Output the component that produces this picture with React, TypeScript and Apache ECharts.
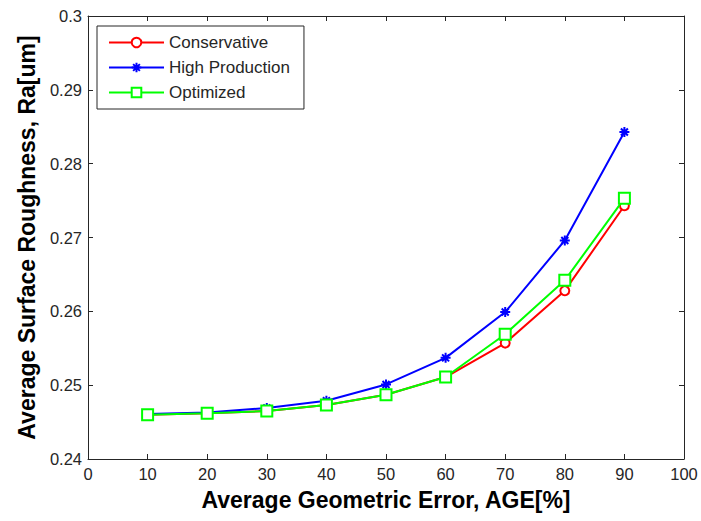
import React, { useEffect, useRef } from "react";
import * as echarts from "echarts";

const xValues = [10, 20, 30, 40, 50, 60, 70, 80, 90];
const conservative = [0.2460, 0.2462, 0.2465, 0.2473, 0.2487, 0.2511, 0.2557, 0.2628, 0.2743];
const highProduction = [0.2461, 0.2463, 0.2469, 0.2479, 0.2501, 0.2537, 0.2599, 0.2696, 0.2843];
const optimized = [0.2460, 0.2462, 0.2465, 0.2473, 0.2487, 0.2511, 0.2569, 0.2642, 0.2753];
const seriesNames = ["Conservative", "High Production", "Optimized"];

const asterisk = "path://M5,0L5,10M0,5L10,5M1.5,1.5L8.5,8.5M1.5,8.5L8.5,1.5";

const FONT = "Liberation Sans, Arial, sans-serif";
const AXIS = "#262626";

export default function App() {
  const ref = useRef<HTMLDivElement>(null);
  useEffect(() => {
    const chart = echarts.init(ref.current!, null, { renderer: "svg" });
    const pair = (ys: number[]) => xValues.map((x, i) => [x, ys[i]]);
    const axisCommon = {
      axisLine: { show: true, onZero: false, lineStyle: { color: AXIS, width: 1 } },
      axisTick: { show: true, inside: true, length: 5, lineStyle: { color: AXIS } },
      splitLine: { show: false },
    };
    const titleStyle = { fontSize: 23, fontWeight: "bold", color: "#000", fontFamily: FONT };
    chart.setOption({
      animation: false,
      backgroundColor: "#ffffff",
      textStyle: { fontFamily: FONT },
      grid: { left: 88, right: 17, top: 16, bottom: 62, containLabel: false },
      legend: {
        orient: "vertical",
        left: 97,
        top: 26,
        padding: [8, 14, 8, 11],
        itemWidth: 55,
        itemHeight: 12,
        itemGap: 8,
        backgroundColor: "#ffffff",
        borderColor: AXIS,
        borderWidth: 1,
        textStyle: { fontSize: 17, color: "#262626", fontFamily: FONT },
        data: seriesNames,
      },
      xAxis: [
        {
          type: "value",
          min: 0,
          max: 100,
          interval: 10,
          name: "Average Geometric Error, AGE[%]",
          nameLocation: "middle",
          nameGap: 29,
          nameTextStyle: titleStyle,
          axisLabel: { fontSize: 16.5, color: "#262626", margin: 6 },
          ...axisCommon,
        },
        {
          type: "value",
          position: "top",
          min: 0,
          max: 100,
          interval: 10,
          axisLabel: { show: false },
          ...axisCommon,
        },
      ],
      yAxis: [
        {
          type: "value",
          min: 0.24,
          max: 0.3,
          interval: 0.01,
          name: "Average Surface Roughness, Ra[um]",
          nameLocation: "middle",
          nameGap: 49,
          nameTextStyle: titleStyle,
          axisLabel: {
            fontSize: 16.5,
            color: "#262626",
            margin: 6,
            formatter: (v: number) => String(parseFloat(v.toFixed(2))),
          },
          ...axisCommon,
        },
        {
          type: "value",
          position: "right",
          min: 0.24,
          max: 0.3,
          interval: 0.01,
          axisLabel: { show: false },
          ...axisCommon,
        },
      ],
      series: [
        {
          name: seriesNames[0],
          type: "line",
          data: pair(conservative),
          symbol: "emptyCircle",
          symbolSize: 9,
          lineStyle: { color: "#ff0000", width: 2 },
          itemStyle: { color: "#ff0000", borderWidth: 1.5 },
          z: 2,
        },
        {
          name: seriesNames[1],
          type: "line",
          data: pair(highProduction),
          symbol: asterisk,
          symbolSize: 10,
          lineStyle: { color: "#0000ff", width: 2 },
          itemStyle: { color: "#0000ff", borderColor: "#0000ff", borderWidth: 2 },
          z: 3,
        },
        {
          name: seriesNames[2],
          type: "line",
          data: pair(optimized),
          symbol: "emptyRect",
          symbolSize: 11,
          lineStyle: { color: "#00ff00", width: 2 },
          itemStyle: { color: "#00ff00", borderWidth: 2 },
          z: 4,
        },
      ],
    });
    return () => chart.dispose();
  }, []);
  return <div ref={ref} style={{ width: 701, height: 521, position: "absolute", left: 0, top: 0 }} />;
}
